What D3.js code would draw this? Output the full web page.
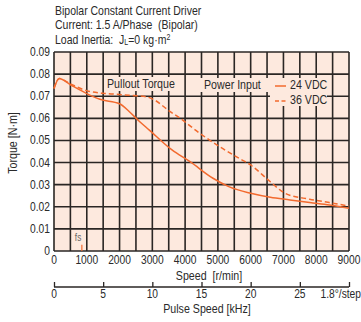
<!DOCTYPE html>
<html><head><meta charset="utf-8">
<script src="https://cdn.jsdelivr.net/npm/d3@7"></script>
<style>
body{margin:0;background:#fff;}
text{font-family:"Liberation Sans",Arial,sans-serif;fill:#2a2a2a;}
</style></head>
<body>
<svg id="c" width="361" height="322"></svg>
<script>
const titleLines = ["Bipolar Constant Current Driver","Current: 1.5 A/Phase  (Bipolar)"];
const speedTicks = [0,1000,2000,3000,4000,5000,6000,7000,8000,9000];
const torqueTicks = [0,0.01,0.02,0.03,0.04,0.05,0.06,0.07,0.08,0.09];
const pulseTicks = [0,5,10,15,20,25,30];
const speed24 = [0,160,500,1000,1400,2000,2300,2600,2900,3600,4150,4850,5350,6000,6600,7200,7800,8400,9000];
const torque24 = [0.0735,0.078,0.0752,0.0712,0.0686,0.0666,0.063,0.0587,0.0548,0.0457,0.0404,0.0329,0.0290,0.0261,0.0243,0.0231,0.0219,0.0208,0.0193];
const speed36 = [0,160,500,1000,1500,1900,2400,2800,3100,3500,3850,4450,5050,5650,6000,6600,7050,7800,8400,9000];
const torque36 = [0.0735,0.078,0.0756,0.0725,0.0713,0.0709,0.0703,0.0698,0.068,0.0635,0.0600,0.0532,0.0472,0.0419,0.0389,0.0313,0.0261,0.0234,0.0219,0.0203];
const fsSpeed = 850;

const svg = d3.select("#c");
const L=54,R=349,T=52,B=251;
const x = d3.scaleLinear().domain([0,9000]).range([L,R]);
const y = d3.scaleLinear().domain([0,0.09]).range([B,T]);
const xp = d3.scaleLinear().domain([0,30]).range([L,R]);
const orange = "#f26a2e", grid="#2a2624";
const SX = 0.82;
function txt(px, py, s, anchor, size, rot){
  const t = svg.append("text")
    .attr("transform",`translate(${px},${py})${rot?` rotate(${rot})`:""} scale(${SX},1)`)
    .attr("text-anchor",anchor||"start").attr("font-size",size||12);
  if (s!==null) t.text(s);
  return t;
}

// titles
txt(55,15,titleLines[0],"start",12.8);
txt(55,29,titleLines[1],"start",12.8).attr("xml:space","preserve");
const t3 = txt(55,43.5,null,"start",12.8);
t3.append("tspan").text("Load Inertia:  J").attr("xml:space","preserve");
t3.append("tspan").attr("font-size",8.5).attr("dy",1).text("L");
t3.append("tspan").attr("dy",-1).text("=0 kg·m");
t3.append("tspan").attr("font-size",8.5).attr("dy",-4).text("2");

// background
svg.append("rect").attr("x",L).attr("y",T).attr("width",R-L).attr("height",B-T).attr("fill","#fde9de");

// grid
const vg = d3.range(0,9001,500);
svg.append("g").selectAll("line").data(vg).join("line")
  .attr("x1",d=>x(d)).attr("x2",d=>x(d)).attr("y1",T).attr("y2",B)
  .attr("stroke",grid).attr("stroke-width",1.6);
svg.append("g").selectAll("line").data(torqueTicks).join("line")
  .attr("x1",L).attr("x2",R).attr("y1",d=>y(d)).attr("y2",d=>y(d))
  .attr("stroke",grid).attr("stroke-width",1.6);

// legend background patches
svg.append("rect").attr("x",200).attr("y",78).attr("width",127).attr("height",14).attr("fill","#fde9de");
svg.append("rect").attr("x",270).attr("y",92).attr("width",57).attr("height",14).attr("fill","#fde9de");
svg.append("rect").attr("x",105).attr("y",77).attr("width",75).attr("height",14).attr("fill","#fde9de");

// curves
const line = d3.line().x(d=>x(d[0])).y(d=>y(d[1])).curve(d3.curveMonotoneX);
svg.append("path").attr("d",line(speed24.map((s,i)=>[s,torque24[i]])))
  .attr("fill","none").attr("stroke",orange).attr("stroke-width",1.5);
svg.append("path").attr("d",line(speed36.map((s,i)=>[s,torque36[i]])))
  .attr("fill","none").attr("stroke",orange).attr("stroke-width",1.5).attr("stroke-dasharray","5,3");

// fs marker
svg.append("line").attr("x1",x(fsSpeed)).attr("x2",x(fsSpeed)).attr("y1",y(0)).attr("y2",y(0.0028))
  .attr("stroke",orange).attr("stroke-width",1.2);
txt(x(fsSpeed)-7,241,"fs","start",10).style("fill","#666");

// labels
txt(107,88,"Pullout Torque","start",13);
txt(204,89,"Power Input","start",13);
svg.append("line").attr("x1",275).attr("x2",286).attr("y1",86).attr("y2",86).attr("stroke",orange).attr("stroke-width",1.5);
txt(290,89,"24 VDC","start",13);
svg.append("line").attr("x1",275).attr("x2",287).attr("y1",101).attr("y2",101).attr("stroke",orange).attr("stroke-width",1.5).attr("stroke-dasharray","4,2.5");
txt(290,104,"36 VDC","start",13);

// y tick labels
torqueTicks.forEach(d=>txt(50,y(d)+4,d===0?"0":d3.format(".2f")(d),"end",12.5));
txt(17,143,"Torque [N·m]","middle",13,-90);

// x tick labels
speedTicks.forEach(d=>txt(x(d),264,String(d),"middle",12.5));
txt(209,280,"Speed  [r/min]","middle",13).attr("xml:space","preserve");

// pulse axis
const pg = svg.append("g").attr("transform","translate(0,287)");
const ax = d3.axisTop(xp).tickValues(pulseTicks).tickSize(5).tickFormat("");
pg.call(ax);
pg.select(".domain").attr("stroke",grid).attr("stroke-width",1.3).attr("d",`M${L},0H${R}`);
pg.selectAll(".tick line").attr("stroke",grid).attr("stroke-width",1.3);
pulseTicks.filter(d=>d<30).forEach(d=>txt(xp(d),298,String(d),"middle",12.5));
txt(361,298,"1.8°/step","end",12.5);
txt(207,313,"Pulse Speed [kHz]","middle",13);
</script>
</body></html>
